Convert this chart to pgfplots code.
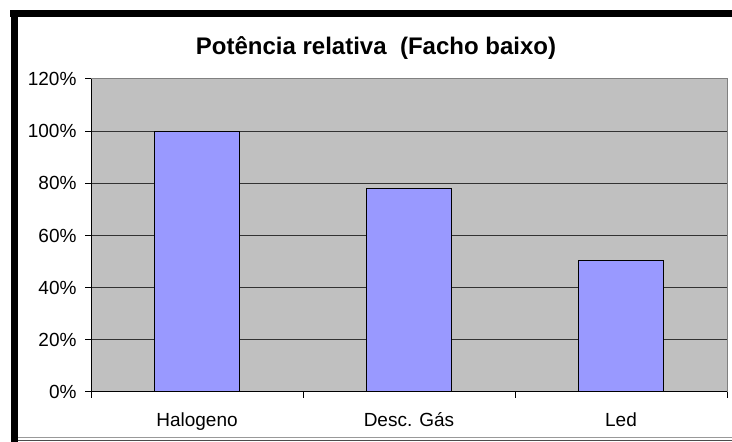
\documentclass[border=0pt]{standalone}
\usepackage{pgfplots}
\pgfplotsset{compat=1.18}
\usepackage{fontspec}
\setmainfont{Liberation Sans}
\definecolor{plotgray}{RGB}{192,192,192}
\definecolor{barblue}{RGB}{153,153,255}
\definecolor{gridc}{RGB}{50,50,50}

\begin{document}
\begin{tikzpicture}[x=1pt,y=1pt]
\useasboundingbox (0,0) rectangle (732,442);
% chart frame
\fill[black] (10,425) rectangle (732,432);
\fill[black] (10.7,0) rectangle (18.3,432);
\draw[gray!80, line width=1pt] (18,4) -- (732,4);
\draw[black!70, line width=1pt] (18,1.5) -- (732,1.5);

\node[anchor=base, font=\fontsize{24}{28}\selectfont\bfseries] at (376,387)
  {Potência relativa\ \ (Facho baixo)};

\begin{axis}[
  at={(91pt,50pt)}, anchor=south west,
  scale only axis, width=636pt, height=313pt,
  ybar, bar width=85pt,
  xmin=-0.5, xmax=2.5, ymin=0, ymax=120,
  axis x line*=bottom, axis y line*=left,
  axis line style={black, line width=1pt},
  axis background/.style={fill=plotgray, draw=gray, line width=1pt},
  tick align=outside,
  xtick={0,1,2},
  xticklabels={Halogeno, Desc. Gás, Led},
  major x tick style={draw=none},
  minor xtick={-0.5,0.5,1.5,2.5},
  minor x tick style={black, line width=1pt},
  minor tick length=6pt,
  ytick={0,20,...,100},
  yticklabels={0\%,20\%,40\%,60\%,80\%,100\%},
  extra y ticks={120},
  extra y tick labels={120\%},
  extra y tick style={grid=none},
  major tick length=6pt,
  major y tick style={black, line width=1pt},
  ymajorgrids,
  major grid style={gridc, line width=1pt},
  ticklabel style={font=\fontsize{19}{21}\selectfont},
  yticklabel style={xshift=-5pt},
  xticklabel style={yshift=-11pt},
  /pgf/number format/assume math mode=true,
]
\addplot[fill=barblue, draw=black, line width=1.2pt] coordinates {
  (0,100) (1,78) (2,50.5)};
\end{axis}
\end{tikzpicture}
\end{document}
